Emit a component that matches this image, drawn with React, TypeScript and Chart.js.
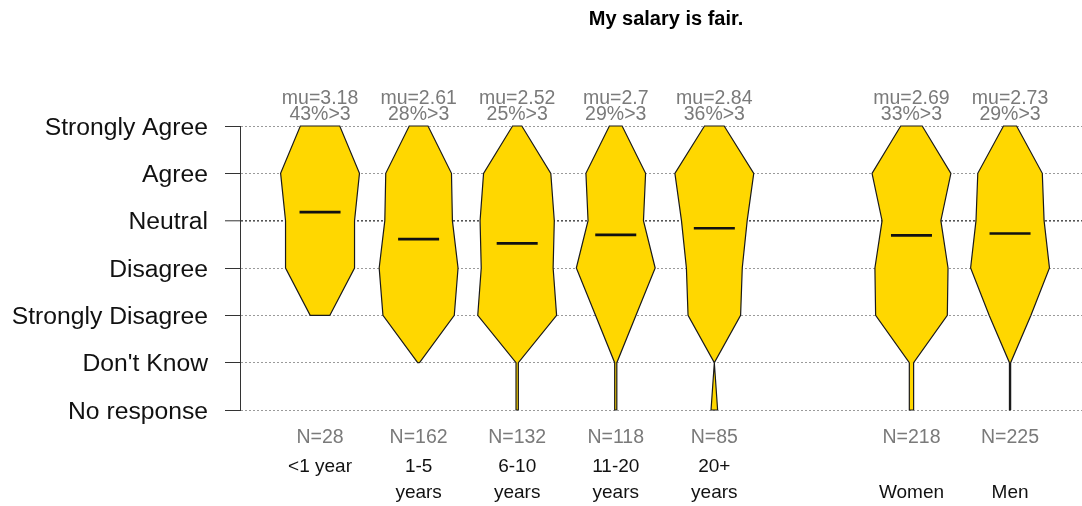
import { useEffect, useRef } from "react";
import { Chart, registerables } from "chart.js";

Chart.register(...registerables);

const FAMILY = '"Liberation Sans", Arial, Helvetica, sans-serif';
const TITLE = "My salary is fair.";

// response levels (bottom to top) and their numeric codes
const levelLabels = [
  "No response",
  "Don't Know",
  "Strongly Disagree",
  "Disagree",
  "Neutral",
  "Agree",
  "Strongly Agree",
];
const levelValues = [-1, 0, 1, 2, 3, 4, 5];

// groups
const groupNames = [
  ["<1 year"],
  ["1-5", "years"],
  ["6-10", "years"],
  ["11-20", "years"],
  ["20+", "years"],
  ["", "Women"],
  ["", "Men"],
];
const groupPositions = [1, 2, 3, 4, 5, 7, 8];
const groupN = [28, 162, 132, 118, 85, 218, 225];
const groupMu = [3.18, 2.61, 2.52, 2.7, 2.84, 2.69, 2.73];
const groupPctAbove3 = [43, 28, 25, 29, 36, 33, 29];

// counts per level, order: No response, Don't Know, SD, D, N, A, SA
const countsLt1Year = [0, 0, 2, 7, 7, 8, 4];
const counts1to5 = [0, 1, 38, 42, 36, 35, 10];
const counts6to10 = [1, 1, 34, 31, 32, 29, 4];
const counts11to20 = [1, 1, 19, 37, 26, 28, 6];
const counts20plus = [2, 0, 16, 17, 20, 24, 6];
const countsWomen = [3, 3, 50, 51, 41, 55, 15];
const countsMen = [1, 1, 35, 66, 57, 54, 11];
const groupCounts = [
  countsLt1Year,
  counts1to5,
  counts6to10,
  counts11to20,
  counts20plus,
  countsWomen,
  countsMen,
];

const X_MIN = 0.188;
const X_MAX = 8.73;
const HALF_WIDTH = 0.4; // max violin half width, x units
const MEAN_HALF = 0.208; // mean bar half length, x units

function violinPoints(center: number, counts: number[]) {
  const max = Math.max(...counts);
  const nz = counts.map((c, i) => (c > 0 ? i : -1)).filter((i) => i >= 0);
  const lo = nz[0];
  const hi = nz[nz.length - 1];
  const right: { x: number; y: number }[] = [];
  const left: { x: number; y: number }[] = [];
  for (let i = lo; i <= hi; i++) {
    const w = (counts[i] / max) * HALF_WIDTH;
    right.push({ x: center + w, y: levelValues[i] });
  }
  for (let i = hi; i >= lo; i--) {
    const w = (counts[i] / max) * HALF_WIDTH;
    left.push({ x: center - w, y: levelValues[i] });
  }
  return [...right, ...left, right[0]];
}

const textPlugin = {
  id: "violinTexts",
  afterDraw(chart: any) {
    const { ctx, chartArea, scales } = chart;
    const xs = scales.x;
    ctx.save();
    ctx.textAlign = "center";
    ctx.textBaseline = "middle";
    ctx.fillStyle = "#000";
    ctx.font = `bold 20px ${FAMILY}`;
    ctx.fillText(TITLE, (chartArea.left + chartArea.right) / 2 + 5, 19.5);

    groupPositions.forEach((p, i) => {
      const cx = xs.getPixelForValue(p);
      ctx.fillStyle = "#7a7a7a";
      ctx.font = `19.5px ${FAMILY}`;
      ctx.fillText(`mu=${groupMu[i]}`, cx, 98.5);
      ctx.fillText(`${groupPctAbove3[i]}%>3`, cx, 115);
      ctx.fillText(`N=${groupN[i]}`, cx, 437.5);
      ctx.fillStyle = "#111";
      ctx.font = `19px ${FAMILY}`;
      groupNames[i].forEach((line, j) => {
        if (line) ctx.fillText(line, cx, 467 + j * 26);
      });
    });
    ctx.restore();
  },
};

export default function App() {
  const ref = useRef<HTMLCanvasElement | null>(null);

  useEffect(() => {
    if (!ref.current) return;
    const violinSets = groupPositions.map((p, i) => ({
      label: groupNames[i].join(" "),
      data: violinPoints(p, groupCounts[i]),
      showLine: true,
      fill: "shape",
      backgroundColor: "#FFD700",
      borderColor: "#1a1a1a",
      borderWidth: 1.2,
      pointRadius: 0,
      tension: 0,
      clip: false,
      order: 2,
    }));
    const meanSets = groupPositions.map((p, i) => ({
      label: "mean " + groupNames[i].join(" "),
      data: [
        { x: p - MEAN_HALF, y: groupMu[i] },
        { x: p + MEAN_HALF, y: groupMu[i] },
      ],
      showLine: true,
      fill: false,
      borderColor: "#111",
      borderWidth: 2.6,
      pointRadius: 0,
      clip: false,
      order: 1,
    }));

    const chart = new Chart(ref.current, {
      type: "scatter",
      data: { datasets: [...violinSets, ...meanSets] as any },
      options: {
        animation: false,
        responsive: false,
        devicePixelRatio: 1,
        layout: { padding: { top: 126, bottom: 96, left: 0, right: 0 } },
        plugins: {
          legend: { display: false },
          tooltip: { enabled: false },
          title: { display: false },
        },
        scales: {
          x: { type: "linear", min: X_MIN, max: X_MAX, display: false },
          y: {
            type: "linear",
            min: -1,
            max: 5,
            afterFit: (s: any) => {
              s.width = 240;
            },
            ticks: {
              stepSize: 1,
              color: "#111",
              padding: 17,
              labelOffset: 2,
              font: { family: FAMILY, size: 24.7 },
              callback: (v: any) => {
                const k = levelValues.indexOf(Number(v));
                return k >= 0 ? levelLabels[k] : "";
              },
            },
            grid: {
              color: (c: any) => (c.tick && c.tick.value === 3 ? "#555" : "#9a9a9a"),
              lineWidth: (c: any) => (c.tick && c.tick.value === 3 ? 1.6 : 1),
              drawTicks: true,
              tickLength: 15,
              tickColor: "#333",
              tickWidth: 1,
            },
            border: { display: true, color: "#333", width: 1, dash: [2, 2] },
          },
        },
      } as any,
      plugins: [textPlugin],
    });
    return () => chart.destroy();
  }, []);

  return (
    <div style={{ position: "fixed", left: 0, top: 0, width: 1082, height: 506, background: "#fff" }}>
      <canvas ref={ref} width={1082} height={506} />
    </div>
  );
}
